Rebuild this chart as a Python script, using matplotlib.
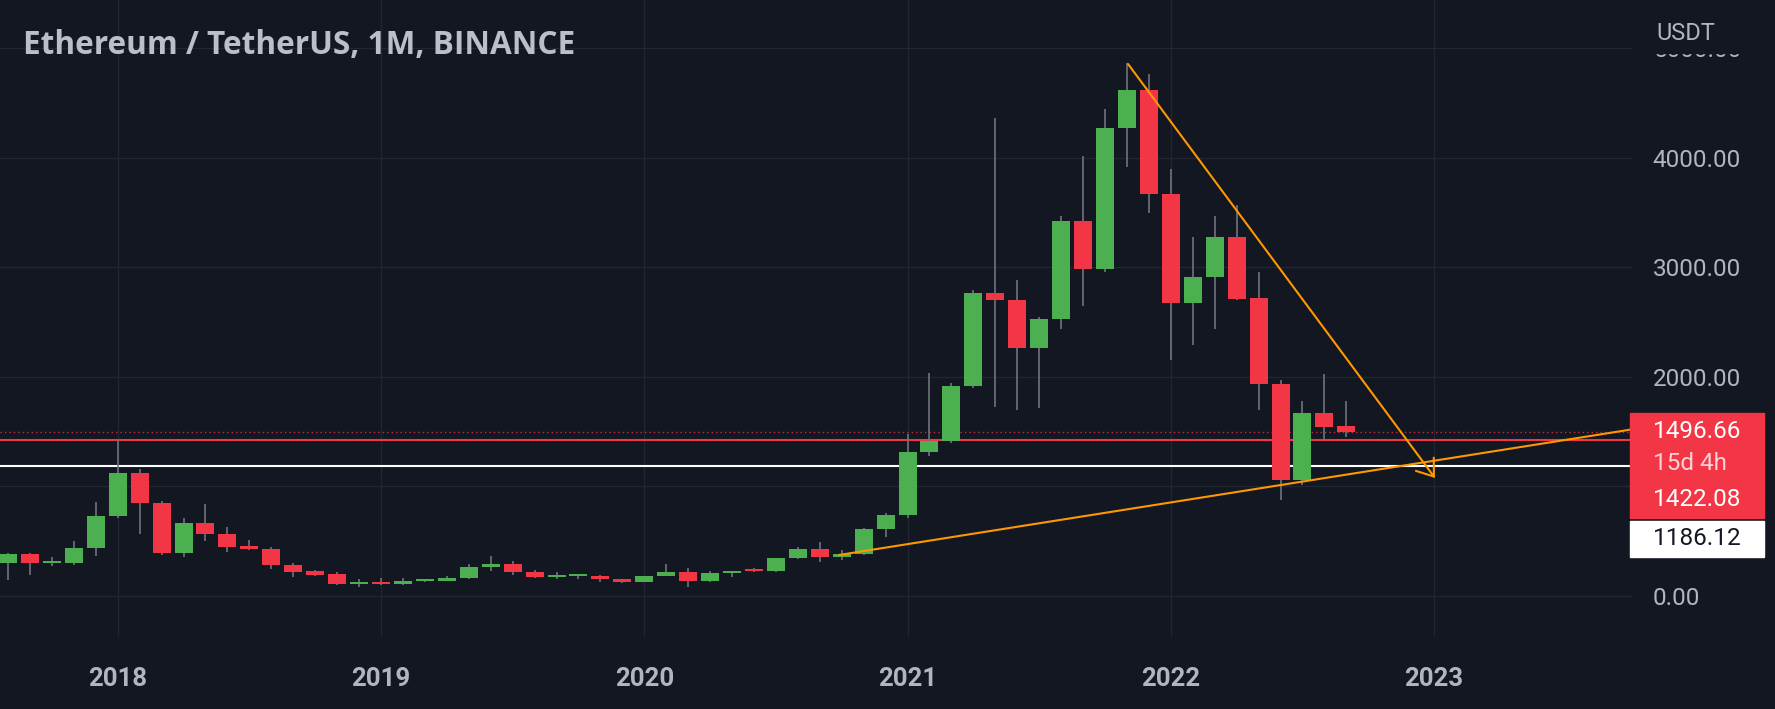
import matplotlib
matplotlib.use("Agg")
import matplotlib.pyplot as plt
from matplotlib.patches import Rectangle
import numpy as np

# ETH/USDT monthly candles (Binance), Aug 2017 .. Sep 2022
months = ["2017-08", "2017-09", "2017-10", "2017-11", "2017-12",
          "2018-01", "2018-02", "2018-03", "2018-04", "2018-05", "2018-06",
          "2018-07", "2018-08", "2018-09", "2018-10", "2018-11", "2018-12",
          "2019-01", "2019-02", "2019-03", "2019-04", "2019-05", "2019-06",
          "2019-07", "2019-08", "2019-09", "2019-10", "2019-11", "2019-12",
          "2020-01", "2020-02", "2020-03", "2020-04", "2020-05", "2020-06",
          "2020-07", "2020-08", "2020-09", "2020-10", "2020-11", "2020-12",
          "2021-01", "2021-02", "2021-03", "2021-04", "2021-05", "2021-06",
          "2021-07", "2021-08", "2021-09", "2021-10", "2021-11", "2021-12",
          "2022-01", "2022-02", "2022-03", "2022-04", "2022-05", "2022-06",
          "2022-07", "2022-08", "2022-09"]
opens = [301, 383, 302, 305, 440,
         730, 1125, 852, 390, 666, 570,
         452, 428, 280, 228, 198, 112,
         131, 106, 137, 141, 162, 268,
         291, 218, 172, 180, 183, 152,
         129, 179, 218, 133, 206, 231,
         226, 346, 429, 359, 386, 612,
         736, 1312, 1418, 1918, 2765, 2700,
         2266, 2530, 3421, 2984, 4267, 4617,
         3665, 2670, 2908, 3272, 2716, 1935,
         1058, 1672, 1551]
highs = [394, 394, 353, 500, 861,
         1423, 1156, 867, 715, 839, 627,
         515, 444, 304, 240, 222, 157,
         160, 165, 148, 184, 288, 362,
         320, 238, 223, 199, 196, 153,
         184, 288, 253, 227, 227, 253,
         349, 445, 489, 418, 622, 756,
         1476, 2037, 1945, 2792, 4362, 2883,
         2550, 3467, 4015, 4440, 4860, 4763,
         3893, 3278, 3467, 3567, 2959, 1970,
         1779, 2025, 1780]
lows = [150, 191, 276, 285, 368,
        715, 563, 371, 359, 505, 404,
        420, 246, 170, 180, 100, 82,
        102, 102, 128, 139, 154, 230,
        193, 162, 152, 151, 131, 117,
        126, 179, 86, 125, 175, 216,
        222, 335, 308, 330, 370, 535,
        714, 1277, 1400, 1895, 1728, 1697,
        1718, 2433, 2646, 2959, 3911, 3492,
        2153, 2290, 2433, 2700, 1697, 876,
        1013, 1423, 1451]
closes = [383, 302, 305, 440, 730,
          1125, 848, 390, 666, 570, 450,
          425, 280, 221, 195, 112, 131,
          106, 137, 141, 162, 268, 291,
          218, 172, 180, 182, 152, 129,
          179, 218, 133, 206, 231, 226,
          346, 429, 359, 386, 612, 736,
          1312, 1418, 1918, 2765, 2700, 2266,
          2530, 3421, 2984, 4267, 4617, 3665,
          2670, 2908, 3272, 2710, 1935, 1058,
          1670, 1542, 1496.66]

year_ticks = [0, 12, 24, 36, 48, 60]          # months after Jan 2018
year_labels = ["2018", "2019", "2020", "2021", "2022", "2023"]
price_ticks = [0, 1000, 2000, 3000, 4000, 5000]

last_price = 1496.66
countdown = "15d 4h"
red_level = 1422.08
white_level = 1186.12

# drawings: (months after Jan 2018, price)
down_line = [(46.05, 4854), (60.04, 1077)]
up_line = [(32.9, 375), (68.95, 1518)]

BG = "#131722"
GRID = "#222631"
TXT = "#b2b5be"
GREEN = "#4caf50"
RED = "#f23645"
WICK = "#70737d"
ORANGE = "#ff9800"

W, H = 1775, 709
fig = plt.figure(figsize=(W / 100, H / 100), dpi=100, facecolor=BG)
pane_w, pane_h = 1632, 636
ax = fig.add_axes([0, 1 - pane_h / H, pane_w / W, pane_h / H])
ax.set_facecolor(BG)
for s in ax.spines.values():
    s.set_visible(False)

x = np.array([(int(m[:4]) - 2018) * 12 + int(m[5:]) - 1 for m in months])
o = np.array(opens, float)
h = np.array(highs, float)
l = np.array(lows, float)
c = np.array(closes, float)

ax.set_xlim(-5.365, 69.02)
ax.set_ylim(-365, 5438)

ax.grid(True, color=GRID, lw=1, zorder=0)
ax.set_axisbelow(True)

# horizontal levels
ax.axhline(white_level, color="white", lw=1.5, zorder=1)
ax.axhline(red_level, color=RED, lw=1.5, zorder=1)
ax.axhline(last_price, color=RED, lw=1.0, ls=(0, (1, 2.2)), zorder=1, alpha=0.8)

# candles
up = c >= o
colors = np.where(up, GREEN, RED)
ax.vlines(x, l, h, color=WICK, lw=1.2, zorder=2)
body_bot = np.minimum(o, c)
body_h = np.maximum(np.abs(c - o), 18)
ax.bar(x, body_h, width=0.82, bottom=body_bot, color=colors, linewidth=0, zorder=3)

# trend lines
ax.plot([p[0] for p in up_line], [p[1] for p in up_line], color=ORANGE, lw=1.5, zorder=4)
ax.annotate("", xy=down_line[1], xytext=down_line[0],
            arrowprops=dict(arrowstyle="->,head_length=0.55,head_width=0.4",
                            color=ORANGE, lw=1.5, shrinkA=0, shrinkB=0,
                            mutation_scale=20), zorder=4)

# axes ticks
ax.set_xticks(year_ticks, year_labels)
ax.tick_params(axis="x", length=0, pad=22, labelsize=18.5, labelcolor=TXT)
for t in ax.get_xticklabels():
    t.set_fontweight("bold")
    t.set_fontfamily("Roboto")
ax.yaxis.tick_right()
ax.set_yticks(price_ticks, [f"{v:.2f}" for v in price_ticks])
ax.tick_params(axis="y", length=0, pad=15, labelsize=17.5, labelcolor=TXT)
for t in ax.get_yticklabels():
    t.set_fontfamily("Roboto")

# right price scale overlays
def fig_y(price):
    disp = ax.transData.transform((0, price))
    return fig.transFigure.inverted().transform(disp)[1]

px_w = 1.0 / W
px_h = 1.0 / H
y_lp = fig_y(last_price)
box_x = 1630 * px_w
box_w = 134 * px_w

# hide most of the top label behind the currency title
fig.patches.append(Rectangle((pane_w * px_w, 1 - 53 * px_h), 1, 53 * px_h,
                             transform=fig.transFigure, color=BG, zorder=1))
fig.text(1656 * px_w, 1 - 34 * px_h, "USDT", color=TXT, fontsize=17,
         family="Roboto", va="center", ha="left", zorder=5)

fig.patches.append(Rectangle((box_x, y_lp - 50 * px_h), box_w, 69 * px_h,
                             transform=fig.transFigure, color=RED, zorder=2))
fig.patches.append(Rectangle((box_x, y_lp - 86 * px_h), box_w, 35 * px_h,
                             transform=fig.transFigure, color=RED, zorder=2))
fig.patches.append(Rectangle((box_x, y_lp - 125 * px_h), box_w, 36 * px_h,
                             transform=fig.transFigure, color="white", zorder=2))

lx = 1653 * px_w
fig.text(lx, y_lp, f"{last_price:.2f}", color="white", fontsize=17.5,
         family="Roboto", va="center", zorder=5)
fig.text(lx, y_lp - 32 * px_h, countdown, color="#fbd3d7", fontsize=17.5,
         family="Roboto", va="center", zorder=5)
fig.text(lx, y_lp - 68 * px_h, f"{red_level:.2f}", color="white", fontsize=17.5,
         family="Roboto", va="center", zorder=5)
fig.text(lx, y_lp - 107 * px_h, f"{white_level:.2f}", color="#131722", fontsize=17.5,
         family="Roboto", va="center", zorder=5)

# title
fig.text(23 * px_w, 1 - 45 * px_h, "Ethereum / TetherUS, 1M, BINANCE", color="#bcbfc8",
         fontsize=22.7, fontweight="bold", family="Open Sans", va="center", ha="left")

fig.savefig("out.png", dpi=100, facecolor=BG)
